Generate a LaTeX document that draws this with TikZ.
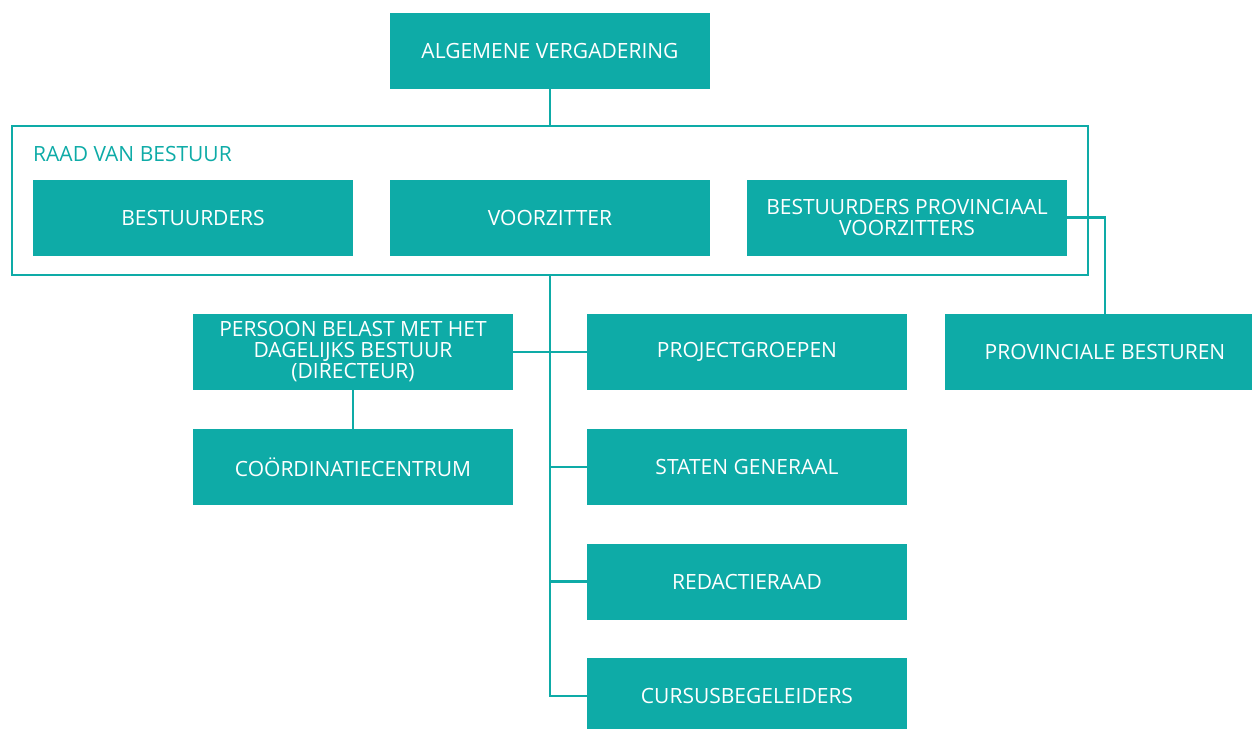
\documentclass[tikz,border=0pt]{standalone}
\usepackage{fontspec}
\setmainfont{Open Sans}
\usetikzlibrary{positioning}
\definecolor{OrgTeal}{RGB}{14,171,167}

\begin{document}
\begin{tikzpicture}[x=1pt,y=-1pt,
  unit/.style={fill=OrgTeal,text=white,minimum width=320pt,minimum height=76pt,
    inner sep=0pt,align=center,font=\fontsize{21}{21}\selectfont},
  link/.style={OrgTeal,line width=2.5pt}]
  \useasboundingbox (0,0) rectangle (1252,728);
  % top
  \node[unit] (av) at (550,51) {ALGEMENE VERGADERING};
  \node[draw=OrgTeal,line width=2.5pt,minimum width=1076pt,minimum height=149pt,inner sep=0pt] (raad) at (550,200.5) {};
  \node[OrgTeal,anchor=base west,inner sep=0pt,font=\fontsize{21}{21}\selectfont] (raadlabel) at (33,161) {RAAD VAN BESTUUR};
  \node[unit] (bestuurders) at (193,217.5) {BESTUURDERS};
  \node[unit] (voorzitter) at (550,217.5) {VOORZITTER};
  \node[unit] (provvz) at (907,217.5) {BESTUURDERS PROVINCIAAL\\VOORZITTERS};
  % below the board
  \node[unit] (persoon) at (353,352) {PERSOON BELAST MET HET\\DAGELIJKS BESTUUR\\(DIRECTEUR)};
  \node[unit] (coord) at (353,467) {COÖRDINATIECENTRUM};
  \node[unit] (project) at (747,352) {PROJECTGROEPEN};
  \node[unit] (staten) at (747,467) {STATEN GENERAAL};
  \node[unit] (redactie) at (747,581.5) {REDACTIERAAD};
  \node[unit] (cursus) at (747,696) {CURSUSBEGELEIDERS};
  \node[unit] (provbest) at (1105,352) {PROVINCIALE BESTUREN};
  % lines
  \draw[link] (av.south) -- (raad.north);
  \draw[link] (raad.south) |- (cursus.west);
  \draw[link] (persoon.east) -- (project.west);
  \draw[link] (raad.south |- staten.west) -- (staten.west);
  \draw[link] (raad.south |- redactie.west) -- (redactie.west);
  \draw[link] (persoon.south) -- (coord.north);
  \draw[link] (provvz.east) -| (provbest.north);
\end{tikzpicture}
\end{document}
